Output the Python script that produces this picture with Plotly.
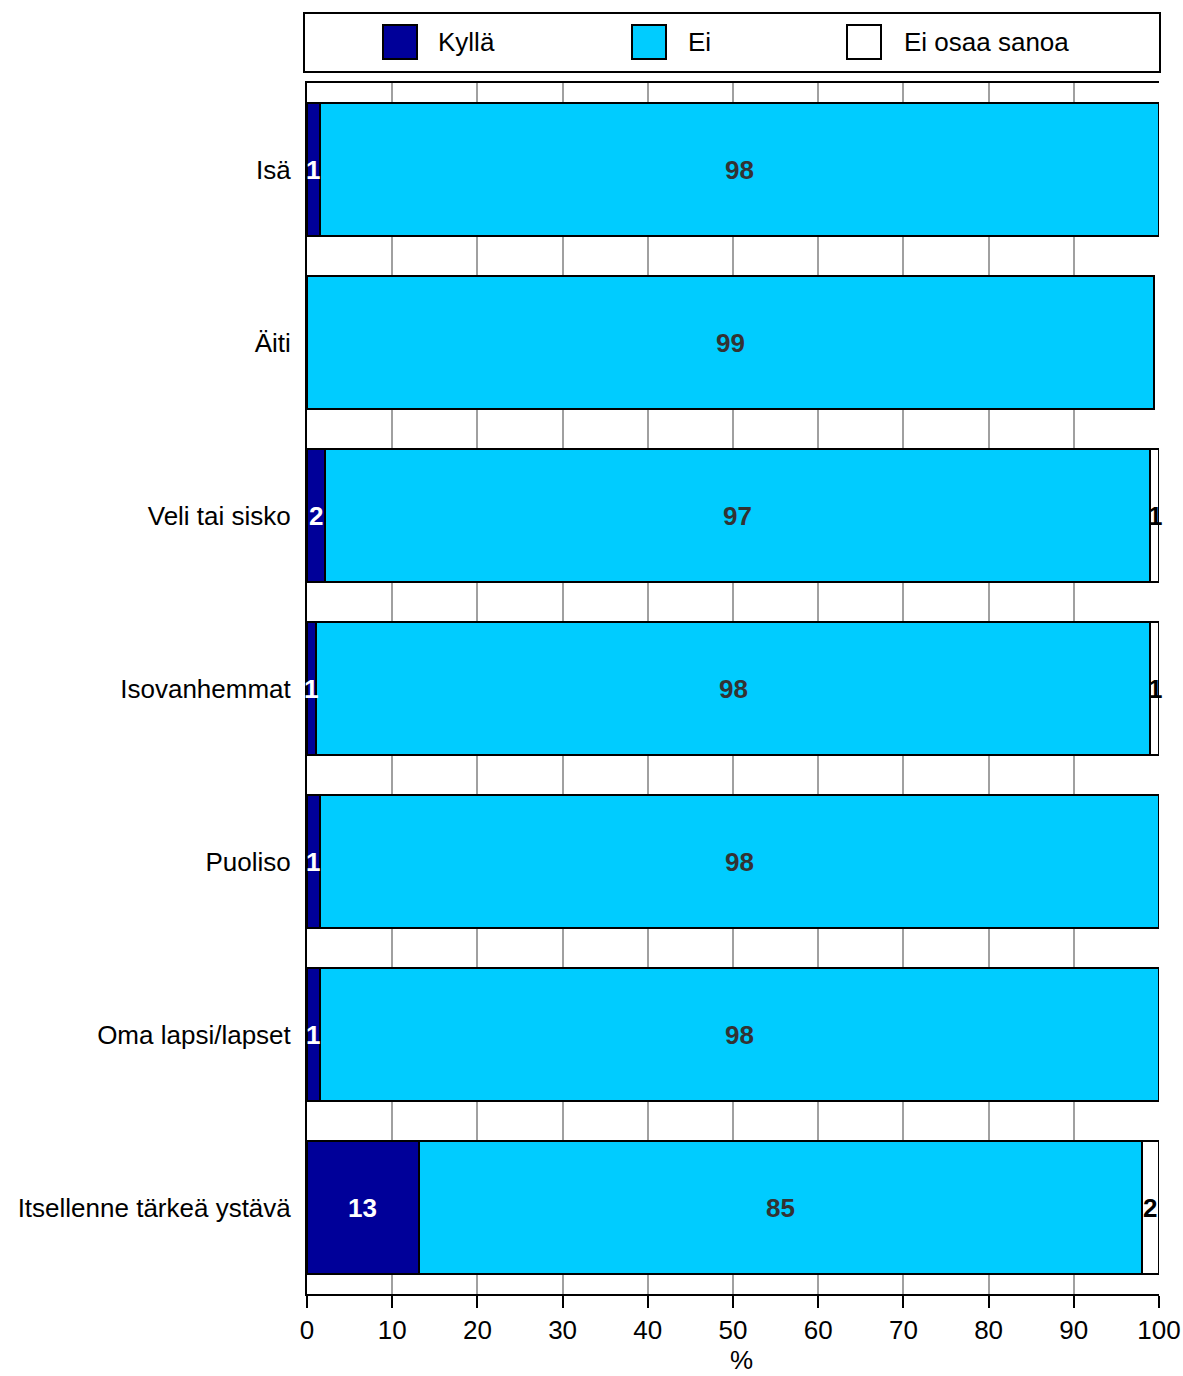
import plotly.graph_objects as go

categories = ["Isä", "Äiti", "Veli tai sisko", "Isovanhemmat", "Puoliso",
              "Oma lapsi/lapset", "Itsellenne tärkeä ystävä"]
series_names = ["Kyllä", "Ei", "Ei osaa sanoa"]
kylla = [1.49, 0.0, 2.1, 1.0, 1.49, 1.49, 13.1]
ei = [98.49, 99.4, 96.9, 98.0, 98.49, 98.49, 84.9]
eos = [0.0, 0.0, 1.0, 1.0, 0.0, 0.0, 2.0]
x_ticks = [0, 10, 20, 30, 40, 50, 60, 70, 80, 90, 100]
x_title = "%"

colors = ["#000099", "#00CCFF", "#FFFFFF"]
label_colors = ["#FFFFFF", "#333333", "#000000"]
series = [kylla, ei, eos]

FONT = "Arial, Liberation Sans, sans-serif"
FS = 26
W, H = 1183, 1376
ML, MR, MT = 307, 24, 83
MB = H - 1294
PW, PH = W - ML - MR, H - MT - MB


def px_x(x):
    return (x - ML) / PW


def px_y(y):
    return (H - MB - y) / PH


fig = go.Figure()
for name, vals, col in zip(series_names, series, colors):
    fig.add_trace(go.Bar(
        y=categories, x=vals, name=name, orientation="h",
        marker=dict(color=col, line=dict(color="#000000", width=2)),
        showlegend=False, hoverinfo="x+name",
    ))

annotations = []
cum = [0.0] * len(categories)
for vals, lc in zip(series, label_colors):
    for i, v in enumerate(vals):
        if v > 0:
            annotations.append(dict(
                x=cum[i] + v / 2, y=categories[i], xref="x", yref="y",
                text=f"<b>{round(v)}</b>", showarrow=False,
                font=dict(family=FONT, size=FS, color=lc),
            ))
        cum[i] += v

# x-axis title
annotations.append(dict(x=px_x(741), y=px_y(1376), xref="paper", yref="paper",
                        xanchor="center", yanchor="bottom", text=x_title, showarrow=False,
                        borderpad=0, font=dict(family=FONT, size=FS, color="#000000")))

# custom legend
shapes = [dict(type="rect", xref="paper", yref="paper",
               x0=px_x(304), x1=px_x(1160), y0=px_y(72), y1=px_y(13),
               line=dict(color="#000000", width=2), fillcolor="#FFFFFF", layer="above")]
sw_x = [383, 632, 847]
txt_x = [436, 686, 902]
for name, col, sx, tx in zip(series_names, colors, sw_x, txt_x):
    shapes.append(dict(type="rect", xref="paper", yref="paper",
                       x0=px_x(sx), x1=px_x(sx + 34), y0=px_y(59), y1=px_y(25),
                       line=dict(color="#000000", width=2), fillcolor=col, layer="above"))
    annotations.append(dict(x=px_x(tx), y=px_y(42), xref="paper", yref="paper",
                            xanchor="left", yanchor="middle", text=name, showarrow=False,
                            font=dict(family=FONT, size=FS, color="#000000")))

fig.update_layout(
    width=W, height=H,
    margin=dict(l=ML, r=MR, t=MT, b=MB, autoexpand=False),
    barmode="stack", bargap=0.227,
    plot_bgcolor="#FFFFFF", paper_bgcolor="#FFFFFF",
    font=dict(family=FONT, size=FS, color="#000000"),
    shapes=shapes, annotations=annotations,
    xaxis=dict(range=[0, 100], tickvals=x_ticks, showgrid=True,
               gridcolor="#A0A0A0", gridwidth=1.5, zeroline=False,
               showline=True, linecolor="#000000", linewidth=2, mirror=True,
               ticks="outside", ticklen=12, tickwidth=1.5, tickcolor="#000000",
               ticklabeloverflow="allow",
               tickfont=dict(size=FS, family=FONT)),
    yaxis=dict(categoryorder="array", categoryarray=categories, autorange="reversed",
               range=[6.5, -0.5], showgrid=False, zeroline=False,
               showline=True, linecolor="#000000", linewidth=2,
               ticks="", ticklabelstandoff=9,
               tickfont=dict(size=FS, family=FONT)),
)
fig.write_html("out.html", config={"displayModeBar": False},
               post_script="document.body.style.margin='0px';document.body.style.overflow='hidden';")
